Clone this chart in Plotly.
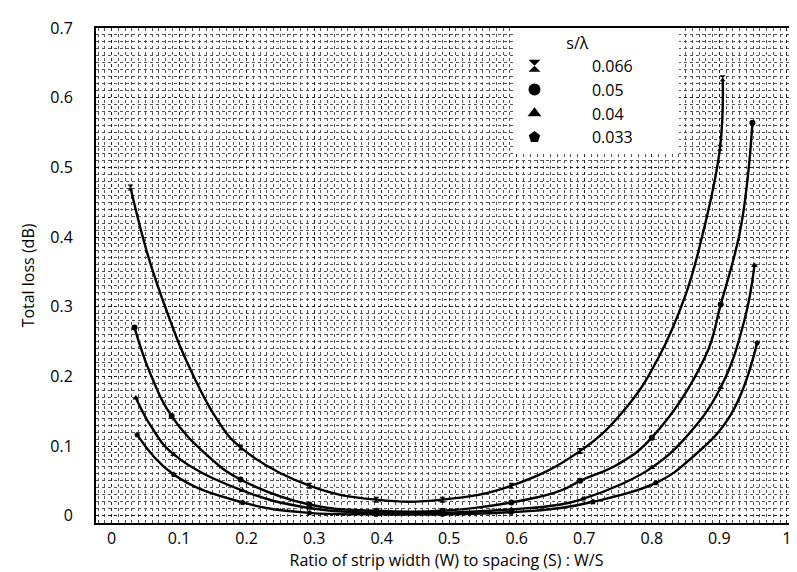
import plotly.graph_objects as go

# s/lambda series labels
series_labels = ["0.066", "0.05", "0.04", "0.033"]
symbols = ["hourglass", "circle", "triangle-up", "pentagon"]

# curve trace points (W/S, total loss dB)
x_066 = [0.028, 0.055, 0.085, 0.111, 0.155, 0.191, 0.293, 0.392, 0.49, 0.592, 0.694, 0.762, 0.81, 0.85, 0.873, 0.901, 0.905]
y_066 = [0.471, 0.37, 0.285, 0.222, 0.14, 0.098, 0.043, 0.023, 0.023, 0.043, 0.093, 0.155, 0.227, 0.317, 0.395, 0.528, 0.628]
m_066 = [0, 5, 6, 7, 8, 9, 10, 15, 16]

x_05 = [0.034, 0.057, 0.089, 0.14, 0.191, 0.293, 0.392, 0.49, 0.592, 0.665, 0.694, 0.752, 0.8, 0.879, 0.902, 0.93, 0.942, 0.949]
y_05 = [0.27, 0.205, 0.143, 0.088, 0.052, 0.016, 0.007, 0.007, 0.019, 0.036, 0.05, 0.075, 0.112, 0.228, 0.303, 0.405, 0.485, 0.564]
m_05 = [0, 2, 4, 5, 6, 7, 8, 10, 12, 14, 17]

x_04 = [0.036, 0.06, 0.092, 0.194, 0.293, 0.392, 0.49, 0.592, 0.665, 0.698, 0.752, 0.8, 0.85, 0.902, 0.937, 0.952]
y_04 = [0.169, 0.126, 0.088, 0.036, 0.011, 0.004, 0.004, 0.009, 0.016, 0.024, 0.044, 0.069, 0.112, 0.184, 0.28, 0.359]
m_04 = [0, 2, 3, 4, 5, 6, 7, 9, 11, 13, 15]

x_033 = [0.038, 0.092, 0.194, 0.293, 0.392, 0.49, 0.592, 0.665, 0.713, 0.806, 0.859, 0.917, 0.956]
y_033 = [0.116, 0.059, 0.019, 0.004, 0.002, 0.002, 0.005, 0.011, 0.02, 0.047, 0.083, 0.145, 0.248]
m_033 = [0, 1, 2, 3, 4, 5, 6, 8, 9, 12]

xs = [x_066, x_05, x_04, x_033]
ys = [y_066, y_05, y_04, y_033]
ms = [m_066, m_05, m_04, m_033]

y_ticks = [0, 0.1, 0.2, 0.3, 0.4, 0.5, 0.6, 0.7]
y_tick_text = ["0", "0.1", "0.2", "0.3", "0.4", "0.5", "0.6", "0.7"]

FONT = "Open Sans, Noto Sans, sans-serif"

fig = go.Figure()
for lab, sym, x, y, m in zip(series_labels, symbols, xs, ys, ms):
    fig.add_trace(go.Scatter(
        x=x, y=y, mode="lines", showlegend=False,
        line=dict(color="black", width=2.4, shape="spline", smoothing=1.2),
        hoverinfo="skip"))
    fig.add_trace(go.Scatter(
        x=[x[i] for i in m], y=[y[i] for i in m], mode="markers",
        name="         " + lab + "          ",
        marker=dict(symbol=sym, size=6, color="black")))

fig.update_layout(
    width=797, height=572,
    margin=dict(l=88, r=6, t=20, b=57),
    paper_bgcolor="white", plot_bgcolor="white",
    font=dict(family=FONT, size=16, color="black"),
    showlegend=True,
    legend=dict(
        x=0.597, y=1, xanchor="left", yanchor="top",
        bgcolor="white", borderwidth=0,
        font=dict(family=FONT, size=16, color="black"),
        title=dict(text="            s/λ", font=dict(family=FONT, size=16)),
        tracegroupgap=0, itemsizing="constant",
    ),
    xaxis=dict(
        range=[-0.023, 1.015], tickmode="linear", tick0=0, dtick=0.1,
        tickformat="~g", ticklabeloverflow="allow",
        showgrid=True, gridcolor="#222", gridwidth=1, griddash="dot",
        minor=dict(dtick=0.01, showgrid=True, gridcolor="#555", griddash="dot", gridwidth=1),
        showline=True, linecolor="black", linewidth=2, mirror=True,
        zeroline=False, ticks="", ticklabelstandoff=0,
        title=dict(text="Ratio of strip width (W) to spacing (S) : W/S", font=dict(size=16), standoff=6),
    ),
    yaxis=dict(
        range=[-0.0105, 0.7], tickvals=y_ticks, ticktext=y_tick_text,
        showgrid=True, gridcolor="#222", gridwidth=1, griddash="dot",
        minor=dict(dtick=0.01, showgrid=True, gridcolor="#555", griddash="dot", gridwidth=1),
        showline=True, linecolor="black", linewidth=2, mirror=True,
        zeroline=False, ticks="", ticklabelstandoff=18,
        title=dict(text="Total loss (dB)", font=dict(size=16), standoff=12),
    ),
)

fig.write_html("out.html")
